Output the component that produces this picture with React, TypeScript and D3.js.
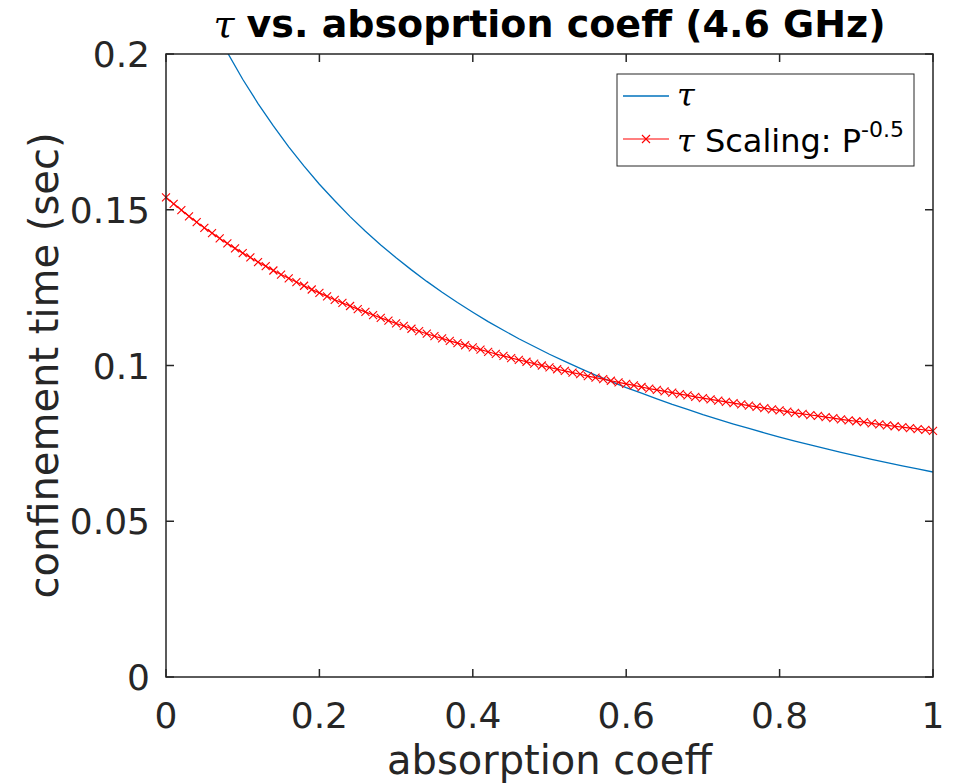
import React, { useEffect, useRef } from 'react'
import * as d3 from 'd3'

// absorption coefficient sample points (red series, one marker each)
const absCoeff = [
  0, 0.01, 0.02, 0.03, 0.04, 0.05, 0.06, 0.07, 0.08, 0.09,
  0.1, 0.11, 0.12, 0.13, 0.14, 0.15, 0.16, 0.17, 0.18, 0.19,
  0.2, 0.21, 0.22, 0.23, 0.24, 0.25, 0.26, 0.27, 0.28, 0.29,
  0.3, 0.31, 0.32, 0.33, 0.34, 0.35, 0.36, 0.37, 0.38, 0.39,
  0.4, 0.41, 0.42, 0.43, 0.44, 0.45, 0.46, 0.47, 0.48, 0.49,
  0.5, 0.51, 0.52, 0.53, 0.54, 0.55, 0.56, 0.57, 0.58, 0.59,
  0.6, 0.61, 0.62, 0.63, 0.64, 0.65, 0.66, 0.67, 0.68, 0.69,
  0.7, 0.71, 0.72, 0.73, 0.74, 0.75, 0.76, 0.77, 0.78, 0.79,
  0.8, 0.81, 0.82, 0.83, 0.84, 0.85, 0.86, 0.87, 0.88, 0.89,
  0.9, 0.91, 0.92, 0.93, 0.94, 0.95, 0.96, 0.97, 0.98, 0.99, 1,
]

// tau scaling P^-0.5 (sec)
const tauScaling = [
  0.154, 0.1519, 0.1499, 0.1479, 0.146, 0.1442, 0.1425, 0.1408, 0.1392, 0.1376,
  0.1361, 0.1347, 0.1332, 0.1319, 0.1305, 0.1292, 0.128, 0.1268, 0.1256, 0.1244,
  0.1233, 0.1222, 0.1211, 0.1201, 0.1191, 0.1181, 0.1172, 0.1162, 0.1153, 0.1144,
  0.1135, 0.1127, 0.1118, 0.111, 0.1102, 0.1094, 0.1087, 0.1079, 0.1072, 0.1065,
  0.1058, 0.1051, 0.1044, 0.1037, 0.1031, 0.1024, 0.1018, 0.1012, 0.1006, 0.1,
  0.0994, 0.0988, 0.0983, 0.0977, 0.0972, 0.0966, 0.0961, 0.0956, 0.0951, 0.0946,
  0.0941, 0.0936, 0.0931, 0.0926, 0.0922, 0.0917, 0.0913, 0.0908, 0.0904, 0.0899,
  0.0895, 0.0891, 0.0887, 0.0883, 0.0879, 0.0875, 0.0871, 0.0867, 0.0863, 0.0859,
  0.0856, 0.0852, 0.0848, 0.0845, 0.0841, 0.0838, 0.0834, 0.0831, 0.0827, 0.0824,
  0.0821, 0.0818, 0.0814, 0.0811, 0.0808, 0.0805, 0.0802, 0.0799, 0.0796, 0.0793, 0.079,
]

// tau (blue series)
const tauX = [
  0, 0.02, 0.04, 0.06, 0.08, 0.1, 0.12, 0.14, 0.16, 0.18,
  0.2, 0.22, 0.24, 0.26, 0.28, 0.3, 0.32, 0.34, 0.36, 0.38,
  0.4, 0.42, 0.44, 0.46, 0.48, 0.5, 0.52, 0.54, 0.56, 0.58,
  0.6, 0.62, 0.64, 0.66, 0.68, 0.7, 0.72, 0.74, 0.76, 0.78,
  0.8, 0.82, 0.84, 0.86, 0.88, 0.9, 0.92, 0.94, 0.96, 0.98, 1,
]
const tau = [
  0.2439, 0.2314, 0.2201, 0.2098, 0.2005, 0.1919, 0.1841, 0.1769, 0.1702, 0.164,
  0.1582, 0.1529, 0.1478, 0.1431, 0.1387, 0.1346, 0.1307, 0.127, 0.1235, 0.1202,
  0.1171, 0.1141, 0.1113, 0.1086, 0.1061, 0.1036, 0.1013, 0.0991, 0.0969, 0.0949,
  0.0929, 0.0911, 0.0893, 0.0875, 0.0859, 0.0842, 0.0827, 0.0812, 0.0798, 0.0784,
  0.077, 0.0757, 0.0745, 0.0733, 0.0721, 0.071, 0.0699, 0.0688, 0.0678, 0.0668, 0.0658,
]

const xTicks = [0, 0.2, 0.4, 0.6, 0.8, 1]
const xTickLabels = ['0', '0.2', '0.4', '0.6', '0.8', '1']
const yTicks = [0, 0.05, 0.1, 0.15, 0.2]
const yTickLabels = ['0', '0.05', '0.1', '0.15', '0.2']

const W = 956
const H = 783
const margin = { top: 54, right: 23, bottom: 106, left: 166 }
const axisColor = '#262626'
const font = '"DejaVu Sans", sans-serif'
const tauFont = '"DejaVu Serif", serif'

export default function App() {
  const ref = useRef<SVGSVGElement>(null)

  useEffect(() => {
    document.body.style.margin = '0'
    const svg = d3.select(ref.current)
    svg.selectAll('*').remove()

    const width = W - margin.left - margin.right
    const height = H - margin.top - margin.bottom

    const xScale = d3.scaleLinear().domain([0, 1]).range([0, width])
    const yScale = d3.scaleLinear().domain([0, 0.2]).range([height, 0])

    svg.append('rect').attr('width', W).attr('height', H).attr('fill', '#fff')

    svg.append('defs').append('clipPath').attr('id', 'plotclip')
      .append('rect').attr('width', width).attr('height', height)

    const g = svg.append('g').attr('transform', `translate(${margin.left},${margin.top})`)

    // blue tau line
    const blueLine = d3.line<number>()
      .x((d, i) => xScale(tauX[i]))
      .y(d => yScale(d))
    g.append('path')
      .datum(tau)
      .attr('clip-path', 'url(#plotclip)')
      .attr('d', blueLine)
      .style('fill', 'none')
      .style('stroke', '#0072BD')
      .style('stroke-width', 1.3)

    // red scaling line
    const redLine = d3.line<number>()
      .x((d, i) => xScale(absCoeff[i]))
      .y(d => yScale(d))
    g.append('path')
      .datum(tauScaling)
      .attr('d', redLine)
      .style('fill', 'none')
      .style('stroke', '#FF0000')
      .style('stroke-width', 1.2)

    const ms = 4
    const marks = g.append('g').style('stroke', '#FF0000').style('stroke-width', 1.1)
    tauScaling.forEach((v, i) => {
      const cx = xScale(absCoeff[i])
      const cy = yScale(v)
      marks.append('path')
        .attr('d', `M${cx - ms},${cy - ms}L${cx + ms},${cy + ms}M${cx - ms},${cy + ms}L${cx + ms},${cy - ms}`)
    })

    // axes box + ticks (inside, all four sides)
    const tl = 8
    const ax = g.append('g').style('stroke', axisColor).style('stroke-width', 1.5).style('fill', 'none')
    ax.append('rect').attr('width', width).attr('height', height)
    xTicks.forEach(t => {
      const x = xScale(t)
      ax.append('line').attr('x1', x).attr('x2', x).attr('y1', height).attr('y2', height - tl)
      ax.append('line').attr('x1', x).attr('x2', x).attr('y1', 0).attr('y2', tl)
    })
    yTicks.forEach(t => {
      const y = yScale(t)
      ax.append('line').attr('x1', 0).attr('x2', tl).attr('y1', y).attr('y2', y)
      ax.append('line').attr('x1', width).attr('x2', width - tl).attr('y1', y).attr('y2', y)
    })

    // tick labels
    xTicks.forEach((t, i) => {
      g.append('text')
        .attr('x', xScale(t))
        .attr('y', height + 51)
        .attr('text-anchor', 'middle')
        .style('font-family', font)
        .style('font-size', '36px')
        .style('fill', axisColor)
        .text(xTickLabels[i])
    })
    yTicks.forEach((t, i) => {
      g.append('text')
        .attr('x', -16)
        .attr('y', yScale(t) + 13)
        .attr('text-anchor', 'end')
        .style('font-family', font)
        .style('font-size', '36px')
        .style('fill', axisColor)
        .text(yTickLabels[i])
    })

    // axis labels
    svg.append('text')
      .attr('x', margin.left + width / 2)
      .attr('y', 774)
      .attr('text-anchor', 'middle')
      .style('font-family', font)
      .style('font-size', '40px')
      .style('fill', axisColor)
      .text('absorption coeff')

    svg.append('text')
      .attr('transform', `translate(58,${margin.top + height / 2})rotate(-90)`)
      .attr('text-anchor', 'middle')
      .style('font-family', font)
      .style('font-size', '40px')
      .style('fill', axisColor)
      .text('confinement time (sec)')

    // title
    const title = svg.append('text')
      .attr('x', margin.left + width / 2)
      .attr('y', 37)
      .attr('text-anchor', 'middle')
      .style('font-size', '38px')
      .style('fill', '#000')
    title.append('tspan')
      .style('font-family', tauFont)
      .style('font-style', 'italic')
      .text('τ ')
    title.append('tspan')
      .style('font-family', font)
      .style('font-weight', 'bold')
      .text('vs. absoprtion coeff (4.6 GHz)')

    // legend
    const lg = svg.append('g').attr('transform', 'translate(617,74)')
    lg.append('rect').attr('width', 297).attr('height', 92)
      .style('fill', '#fff').style('stroke', axisColor).style('stroke-width', 1)
    lg.append('line').attr('x1', 6).attr('x2', 52).attr('y1', 22).attr('y2', 22)
      .style('stroke', '#0072BD').style('stroke-width', 1.3)
    lg.append('line').attr('x1', 6).attr('x2', 52).attr('y1', 65).attr('y2', 65)
      .style('stroke', '#FF0000').style('stroke-width', 1.2)
    lg.append('path').attr('d', `M${29 - ms},${65 - ms}L${29 + ms},${65 + ms}M${29 - ms},${65 + ms}L${29 + ms},${65 - ms}`)
      .style('stroke', '#FF0000').style('stroke-width', 1.1)
    lg.append('text').attr('x', 60).attr('y', 32)
      .style('font-family', tauFont).style('font-style', 'italic').style('font-size', '32px').style('fill', '#000')
      .text('τ')
    const t2 = lg.append('text').attr('x', 60).attr('y', 78)
      .style('font-size', '32px').style('fill', '#000')
    t2.append('tspan').style('font-family', tauFont).style('font-style', 'italic').text('τ ')
    t2.append('tspan').style('font-family', font).text('Scaling: P')
    t2.append('tspan').style('font-family', font).style('font-size', '22px').attr('dy', -15).text('-0.5')
  }, [])

  return (
    <div>
      <svg ref={ref} width={W} height={H} style={{ display: 'block' }}></svg>
    </div>
  )
}
